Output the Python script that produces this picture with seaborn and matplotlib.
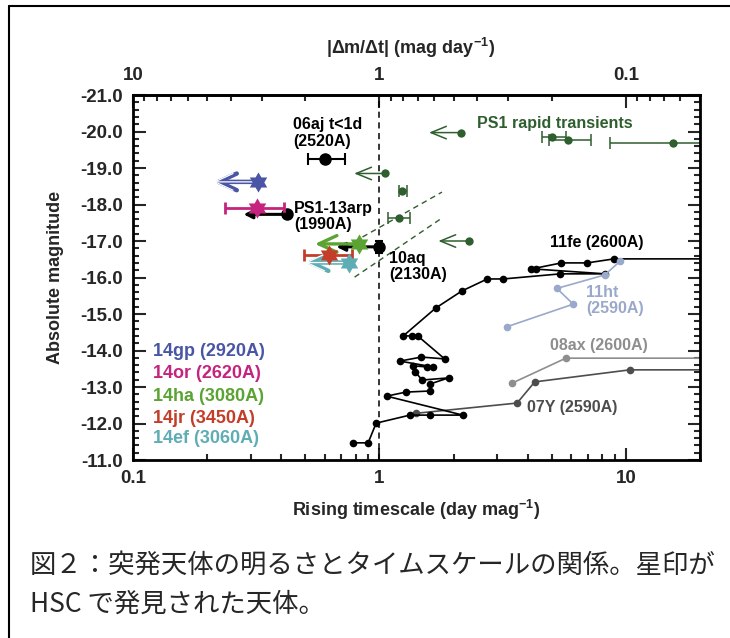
import numpy as np
import matplotlib
matplotlib.use("Agg")
import matplotlib.pyplot as plt
from matplotlib.lines import Line2D
from matplotlib.path import Path
from matplotlib.ticker import FixedLocator, FixedFormatter, MultipleLocator, FuncFormatter, LogLocator, NullFormatter
import seaborn as sns

# ---- data (rising timescale [day/mag], absolute magnitude) ----
# SN 2011fe track
fe11_t = [0.78, 0.90, 0.97, 1.33, 1.60, 2.18, 1.07, 1.28, 1.60, 1.60, 1.91, 1.49,
          1.40, 1.37, 1.56, 1.65, 1.21, 1.48, 1.84, 1.43, 1.36, 1.25, 1.69, 2.16,
          2.74, 3.18, 5.43, 8.24, 4.31, 4.11, 5.48, 6.97, 8.95, 40.0]
fe11_m = [-11.47, -11.47, -12.01, -12.23, -12.23, -12.23, -12.75, -12.86, -12.89, -13.08, -13.25, -13.19,
          -13.41, -13.58, -13.55, -13.55, -13.71, -13.82, -13.77, -14.40, -14.40, -14.40, -15.16, -15.63,
          -15.96, -15.96, -16.10, -16.10, -16.23, -16.23, -16.40, -16.40, -16.51, -16.51]
# SN 2011ht
ht11_t = [3.29, 6.12, 5.25, 8.21, 9.49]
ht11_m = [-14.65, -15.27, -15.70, -16.07, -16.45]
# SN 2008ax
ax08_t = [3.44, 5.71, 40.0]
ax08_m = [-13.10, -13.79, -13.79]
# SN 2007Y
y07_t = [1.41, 3.62, 4.27, 10.38, 40.0]
y07_m = [-12.28, -12.56, -13.14, -13.47, -13.47]

# single objects with errors
aj06 = dict(t=0.600, m=-19.24, lo=0.514, hi=0.723)
arp13 = dict(t=0.421, m=-17.73, tip=0.281)
aq10 = dict(t=1.0, m=-16.84, merr=0.17, tip=0.669)

# HSC stars: name, t, m, colour, lower err, upper err, arrow tip (upper limit)
hsc_names = ["14gp (2920A)", "14or (2620A)", "14ha (3080A)", "14jr (3450A)", "14ef (3060A)"]
hsc_colors = ["#4a55a6", "#c4247e", "#5ba332", "#c33d29", "#5eadb5"]
hsc_t = [0.321, 0.318, 0.825, 0.623, 0.752]
hsc_m = [-18.62, -17.90, -16.92, -16.62, -16.41]
hsc_lo = [None, 0.237, None, 0.494, None]
hsc_hi = [None, 0.411, None, 0.776, None]
hsc_tip = [0.212, None, 0.547, None, 0.499]

# PS1 rapid transients
ps1_lim_t = [2.14, 1.057, 2.31]
ps1_lim_m = [-19.97, -18.85, -17.00]
ps1_lim_tip = [1.59, 0.79, 1.735]
ps1_t = [1.24, 1.205, 5.03, 5.83, 15.47]
ps1_m = [-18.38, -17.62, -19.84, -19.77, -19.68]
ps1_lo = [1.205, 1.087, 4.55, 4.88, 8.63]
ps1_hi = [1.29, 1.33, 5.71, 7.24, 25.0]
# dashed guide lines
guide1_t = [0.854, 1.795]
guide1_m = [-17.11, -18.34]
guide2_t = [0.793, 1.795]
guide2_m = [-16.01, -17.63]

PS1_GREEN = "#2f5e2f"

sns.set_style("ticks")
plt.rcParams['font.family'] = ['Liberation Sans', 'DejaVu Sans']
plt.rcParams['font.weight'] = 'bold'
plt.rcParams['axes.unicode_minus'] = False
plt.rcParams['mathtext.fontset'] = 'custom'
plt.rcParams['mathtext.rm'] = 'Liberation Sans:bold'
plt.rcParams['mathtext.it'] = 'Liberation Sans:bold'
plt.rcParams['mathtext.bf'] = 'Liberation Sans:bold'

fig = plt.figure(figsize=(7.3, 6.38), dpi=100)
ax = fig.add_axes([133 / 730, 1 - 460 / 638, 567 / 730, 365 / 638])
ax.set_xscale('log')
ax.set_xlim(0.1, 20)
ax.set_ylim(-11, -21)

# hexagram marker
ang = np.deg2rad(90 + 30 * np.arange(12))
rad = np.where(np.arange(12) % 2 == 0, 1.0, 0.58)
hexagram = Path(np.c_[rad * np.cos(ang), rad * np.sin(ang)])

ax.axvline(1, color='black', ls='--', lw=1.1, dashes=(4, 3), zorder=1)
for gt, gm in [(guide1_t, guide1_m), (guide2_t, guide2_m)]:
    ax.plot(gt, gm, color=PS1_GREEN, ls='--', lw=1.0, dashes=(4, 3))

# light-curve tracks
sns.lineplot(x=y07_t, y=y07_m, sort=False, estimator=None, color='#4d4d4d', lw=1.2,
             marker='o', markersize=5.5, markeredgewidth=0, ax=ax)
sns.lineplot(x=fe11_t, y=fe11_m, sort=False, estimator=None, color='black', lw=1.2,
             marker='o', markersize=5.5, markeredgewidth=0, ax=ax)
sns.lineplot(x=ax08_t, y=ax08_m, sort=False, estimator=None, color='#8e8e8e', lw=1.2,
             marker='o', markersize=5.5, markeredgewidth=0, ax=ax)
sns.lineplot(x=ht11_t, y=ht11_m, sort=False, estimator=None, color='#9aa9cb', lw=1.2,
             marker='o', markersize=5.5, markeredgewidth=0, ax=ax)


def left_arrow(x0, x1, y, color, lw=1.3, hollow=False, filled=False, big=False):
    if filled:
        style = '-|>,head_length=0.5,head_width=0.25'
    elif big:
        style = '->,head_length=1.3,head_width=0.6'
    else:
        style = '->,head_length=1.1,head_width=0.45'
    ax.annotate('', xy=(x1, y), xytext=(x0, y),
                arrowprops=dict(arrowstyle=style, color=color, lw=lw, shrinkA=0, shrinkB=0))
    if hollow:
        ax.annotate('', xy=(x1, y), xytext=(x0, y),
                    arrowprops=dict(arrowstyle=style, color='white', lw=0.9, shrinkA=0, shrinkB=0))


# PS1 rapid transients
for t, m, tip in zip(ps1_lim_t, ps1_lim_m, ps1_lim_tip):
    left_arrow(t, tip, m, PS1_GREEN, lw=1.1)
sns.scatterplot(x=ps1_lim_t, y=ps1_lim_m, color=PS1_GREEN, s=36, linewidth=0, ax=ax, zorder=4)
ax.errorbar(ps1_t, ps1_m,
            xerr=[np.array(ps1_t) - np.array(ps1_lo), np.array(ps1_hi) - np.array(ps1_t)],
            fmt='none', ecolor=PS1_GREEN, elinewidth=1.1, capsize=4, capthick=1.1)
sns.scatterplot(x=ps1_t, y=ps1_m, color=PS1_GREEN, s=36, linewidth=0, ax=ax, zorder=4)

# 06aj, PS1-13arp, 10aq
ax.errorbar([aj06['t']], [aj06['m']], xerr=[[aj06['t'] - aj06['lo']], [aj06['hi'] - aj06['t']]],
            fmt='o', color='black', ms=8, elinewidth=1.5, capsize=4, capthick=1.5)
left_arrow(arp13['t'], arp13['tip'], arp13['m'], 'black', lw=2.2, filled=True)
ax.plot([arp13['t']], [arp13['m']], 'o', color='black', ms=8)
left_arrow(aq10['t'], aq10['tip'], aq10['m'], 'black', lw=2.2, filled=True)
ax.errorbar([aq10['t']], [aq10['m']], yerr=aq10['merr'], fmt='o', color='black', ms=8,
            elinewidth=1.5, capsize=3, capthick=1.5)

# HSC stars
for name, c, t, m, lo, hi, tip in zip(hsc_names, hsc_colors, hsc_t, hsc_m, hsc_lo, hsc_hi, hsc_tip):
    if tip is not None:
        solid = c == "#5ba332"
        left_arrow(t, tip, m, c, lw=2.4 if solid else 3.2, hollow=not solid, big=True)
    if lo is not None:
        ax.errorbar([t], [m], xerr=[[t - lo], [hi - t]], fmt='none', ecolor=c,
                    elinewidth=2, capsize=4, capthick=2)
    sns.scatterplot(x=[t], y=[m], color=c, marker=hexagram, s=210, linewidth=0, ax=ax, zorder=5)

# labels
tkw = dict(fontsize=11.5, fontweight='bold', va='center', ha='left', linespacing=1.1)
ax.text(0.446, -19.96, "06aj t<1d\n(2520A)", color='black', **tkw)
ax.text(0.45, -17.67, "PS1-13arp\n(1990A)", color='black', **tkw)
ax.text(1.097, -16.30, "10aq\n(2130A)", color='black', **tkw)
ax.text(2.48, -20.21, "PS1 rapid transients", color=PS1_GREEN, **tkw)
ax.text(4.94, -16.97, "11fe (2600A)", color='black', **tkw)
ax.text(6.89, -15.36, "11ht\n(2590A)", color='#9aa9cb', **tkw)
ax.text(4.94, -14.15, "08ax (2600A)", color='#8e8e8e', **tkw)
ax.text(3.99, -12.45, "07Y (2590A)", color='#4d4d4d', **tkw)

leg_y = [0.296, 0.236, 0.173, 0.115, 0.058]
for name, c, yy in zip(hsc_names, hsc_colors, leg_y):
    ax.text(0.035, yy, name, color=c, transform=ax.transAxes, fontsize=13, fontweight='bold',
            va='center', ha='left')

# axes styling
for sp in ax.spines.values():
    sp.set_linewidth(2)
    sp.set_color('black')
ax.xaxis.set_major_locator(FixedLocator([0.1, 1, 10]))
ax.xaxis.set_major_formatter(FixedFormatter(['0.1', '1', '10']))
ax.xaxis.set_minor_locator(LogLocator(base=10, subs=np.arange(2, 10)))
ax.xaxis.set_minor_formatter(NullFormatter())
ax.yaxis.set_major_locator(MultipleLocator(1))
ax.yaxis.set_minor_locator(MultipleLocator(0.2))
ax.yaxis.set_major_formatter(FuncFormatter(lambda v, p: f"{v:.1f}"))
ax.tick_params(which='both', direction='in', top=False, right=True, width=1.5, labelsize=13.5)
ax.tick_params(which='major', length=9, pad=7)
ax.tick_params(which='minor', length=4.5)

secax = ax.secondary_xaxis('top', functions=(lambda x: 1 / np.asarray(x, float),
                                              lambda x: 1 / np.asarray(x, float)))
secax.xaxis.set_major_locator(FixedLocator([10, 1, 0.1]))
secax.xaxis.set_major_formatter(FixedFormatter(['10', '1', '0.1']))
secax.xaxis.set_minor_locator(LogLocator(base=10, subs=np.arange(2, 10)))
secax.xaxis.set_minor_formatter(NullFormatter())
secax.tick_params(which='both', direction='in', width=1.5, labelsize=13.5)
secax.tick_params(which='major', length=9, pad=8)
secax.tick_params(which='minor', length=4.5)
secax.spines['top'].set_linewidth(2)

ax.set_xlabel("Rising timescale (day mag$^{-1}$)", fontsize=13, fontweight='bold')
ax.xaxis.set_label_coords(0.5, -0.105)
ax.set_ylabel("Absolute magnitude", fontsize=13, fontweight='bold')
ax.yaxis.set_label_coords(-0.122, 0.5)
ax.text(0.49, 1.13, "|Δm/Δt| (mag day$^{-1}$)", transform=ax.transAxes, fontsize=13,
        fontweight='bold', ha='center', va='center')

# caption and frame
cap_font = ['Noto Sans CJK JP', 'DejaVu Sans']
fig.text(0.041, 1 - 565 / 638, "図２：突発天体の明るさとタイムスケールの関係。星印が",
         family=cap_font, fontweight='normal', fontsize=19, va='center', ha='left')
fig.text(0.041, 1 - 604 / 638, "HSC で発見された天体。",
         family=cap_font, fontweight='normal', fontsize=19, va='center', ha='left')
fig.add_artist(Line2D([9 / 730, 1.0], [1 - 6 / 638, 1 - 6 / 638], color='black', lw=1.5,
                      transform=fig.transFigure))
fig.add_artist(Line2D([9 / 730, 9 / 730], [0.0, 1 - 6 / 638], color='black', lw=1.5,
                      transform=fig.transFigure))

fig.savefig("out.png", dpi=100, facecolor='white')
